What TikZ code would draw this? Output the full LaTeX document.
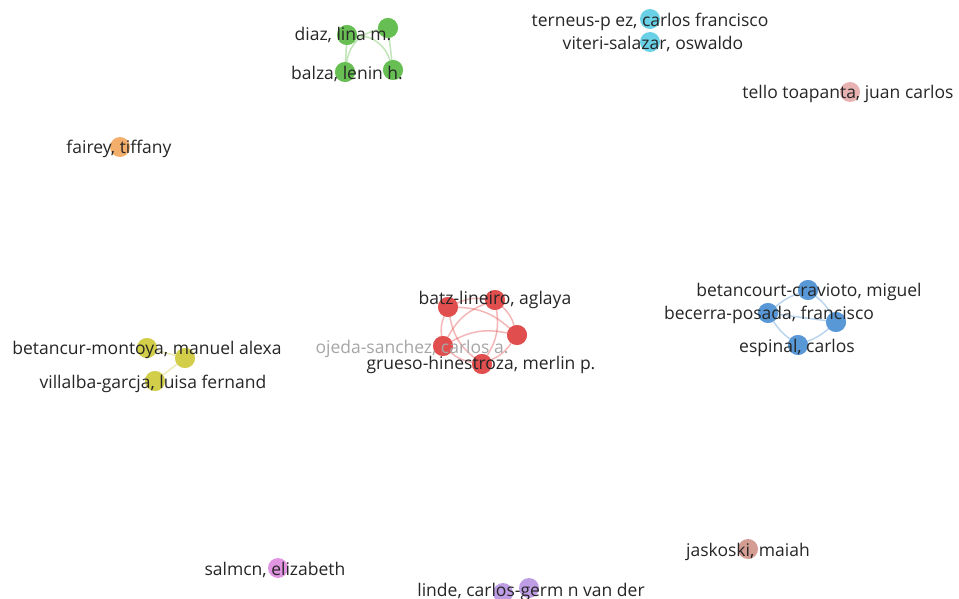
\documentclass[tikz,border=0pt]{standalone}
\usepackage{fontspec}
\setmainfont{Open Sans}
\begin{document}
\begin{tikzpicture}[x=1pt,y=-1pt,
  dot/.style={circle,minimum size=20pt,inner sep=0pt,fill=#1,draw=none,fill opacity=0.85},
  lbl/.style={font=\fontsize{17.5}{19}\selectfont,text=black!85,inner sep=0pt,anchor=center,yshift=-2pt},
  glbl/.style={font=\fontsize{17.5}{19}\selectfont,text=black!35,inner sep=0pt,anchor=center,yshift=-2pt},
  lnk/.style={draw=#1,line width=1.5pt,opacity=0.4}]
\useasboundingbox[fill=white] (0,0) rectangle (959,599);
\definecolor{cgreen}{RGB}{100,190,80}
\definecolor{ccyan}{RGB}{80,200,225}
\definecolor{cpink}{RGB}{230,165,165}
\definecolor{corange}{RGB}{240,160,80}
\definecolor{cred}{RGB}{225,75,75}
\definecolor{cblue}{RGB}{85,150,215}
\definecolor{cyellow}{RGB}{210,205,70}
\definecolor{cmag}{RGB}{220,130,220}
\definecolor{cpurple}{RGB}{180,140,225}
\definecolor{cbrown}{RGB}{205,140,130}
% nodes
\node[dot=cgreen] (g1) at (347,35) {};
\node[dot=cgreen] (g2) at (388,28) {};
\node[dot=cgreen] (g3) at (345,72) {};
\node[dot=cgreen] (g4) at (393,70) {};
\node[dot=ccyan] (c1) at (650,19) {};
\node[dot=ccyan] (c2) at (650,42) {};
\node[dot=cpink] (t1) at (850,92) {};
\node[dot=corange] (f1) at (120,147) {};
\node[dot=cred] (r1) at (448,307) {};
\node[dot=cred] (r2) at (495,300) {};
\node[dot=cred] (r3) at (517,335) {};
\node[dot=cred] (r4) at (443,346) {};
\node[dot=cred] (r5) at (482,364) {};
\node[dot=cblue] (b1) at (808,290) {};
\node[dot=cblue] (b2) at (768,313) {};
\node[dot=cblue] (b3) at (836,322) {};
\node[dot=cblue] (b4) at (798,345) {};
\node[dot=cyellow] (y1) at (147,348) {};
\node[dot=cyellow] (y2) at (185,358) {};
\node[dot=cyellow] (y3) at (155,381) {};
\node[dot=cmag] (s1) at (278,568) {};
\node[dot=cpurple] (l1) at (503,593) {};
\node[dot=cpurple] (l2) at (529,588) {};
\node[dot=cbrown] (j1) at (748,549) {};
% links
\draw[lnk=cgreen] (g1) -- (g3);
\draw[lnk=cgreen] (g2) -- (g4);
\draw[lnk=cgreen] (g1) to[bend left=35] (g4);
\draw[lnk=cgreen] (g2) to[bend right=35] (g3);
\draw[lnk=cred] (r1) to[bend left=15] (r2);
\draw[lnk=cred] (r2) to[bend left=15] (r3);
\draw[lnk=cred] (r3) to[bend left=15] (r5);
\draw[lnk=cred] (r5) to[bend left=15] (r4);
\draw[lnk=cred] (r4) to[bend left=15] (r1);
\draw[lnk=cred] (r1) to[bend left=20] (r3);
\draw[lnk=cred] (r1) to[bend right=20] (r5);
\draw[lnk=cred] (r2) to[bend right=20] (r4);
\draw[lnk=cred] (r2) to[bend left=20] (r5);
\draw[lnk=cred] (r3) to[bend right=20] (r4);
\draw[lnk=cblue] (b2) to[bend left=10] (b1);
\draw[lnk=cblue] (b1) to[bend left=10] (b3);
\draw[lnk=cblue] (b3) to[bend left=10] (b4);
\draw[lnk=cblue] (b4) to[bend left=10] (b2);
\draw[lnk=cblue] (b2) -- (b3);
\draw[lnk=cyellow] (y1) -- (y2);
\draw[lnk=cyellow] (y2) -- (y3);
% redraw dots over links
\foreach \n/\c in {g1/cgreen,g2/cgreen,g3/cgreen,g4/cgreen,r1/cred,r2/cred,r3/cred,r4/cred,r5/cred,b1/cblue,b2/cblue,b3/cblue,b4/cblue,y1/cyellow,y2/cyellow,y3/cyellow}
  \fill[\c,opacity=0.85] (\n) circle (10);
% labels
\node[lbl] (Lg1) at (343,33) {diaz, lina m.};
\node[lbl] (Lg3) at (347,72) {balza, lenin h.};
\node[lbl] (Lc1) at (650,20) {terneus-p ez, carlos francisco};
\node[lbl] (Lc2) at (653,42) {viteri-salazar, oswaldo};
\node[lbl] (Lt1) at (848,92) {tello toapanta, juan carlos};
\node[lbl] (Lf1) at (119,147) {fairey, tiffany};
\node[lbl] (Lr2) at (495,298) {batz-lineiro, aglaya};
\node[glbl] (Lr4) at (412,347) {ojeda-sanchez, carlos a.};
\node[lbl] (Lr5) at (481,363) {grueso-hinestroza, merlin p.};
\node[lbl] (Lb1) at (809,290) {betancourt-cravioto, miguel};
\node[lbl] (Lb2) at (769,313) {becerra-posada, francisco};
\node[lbl] (Lb4) at (797,346) {espinal, carlos};
\node[lbl] (Ly1) at (147,348) {betancur-montoya, manuel alexa};
\node[lbl] (Ly3) at (153,382) {villalba-garcja, luisa fernand};
\node[lbl] (Ls1) at (275,568) {salmcn, elizabeth};
\node[lbl] (Ll1) at (531,590) {linde, carlos-germ n van der};
\node[lbl] (Lj1) at (748,550) {jaskoski, maiah};
\end{tikzpicture}
\end{document}
